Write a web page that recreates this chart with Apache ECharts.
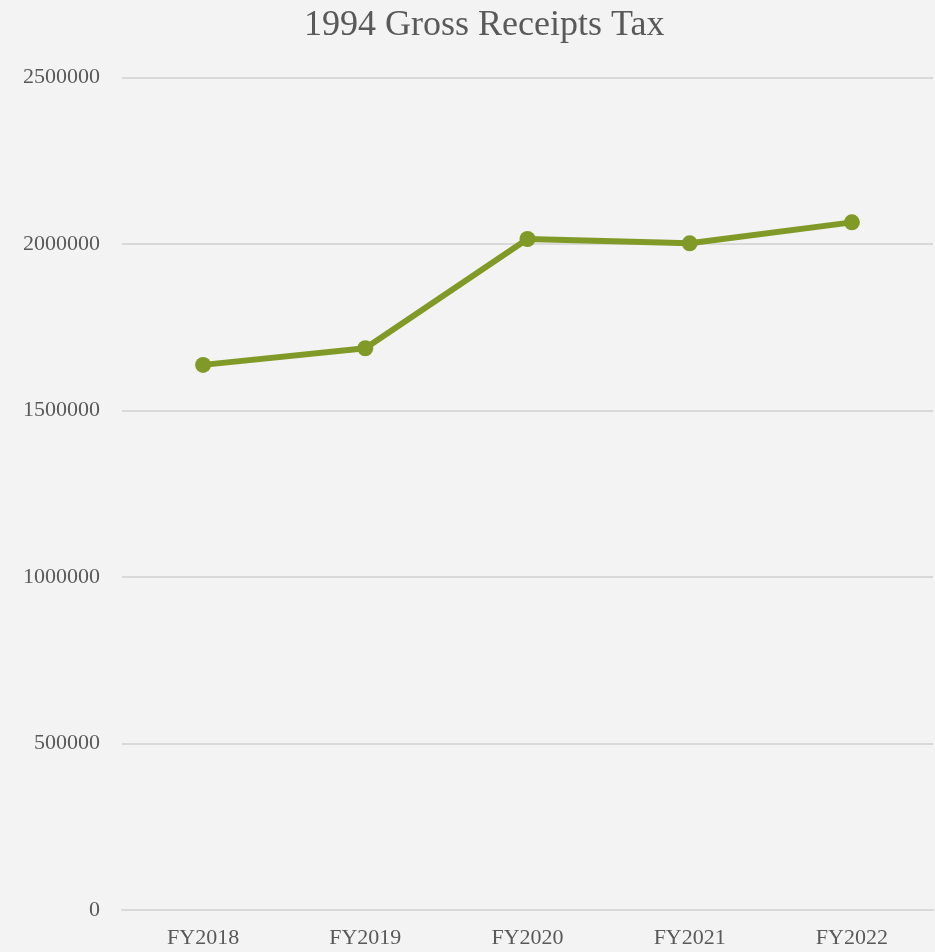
<!DOCTYPE html>
<html>
<head>
<meta charset="utf-8">
<style>
  html, body { margin: 0; padding: 0; background: #f3f3f3; }
  #chart { width: 935px; height: 952px; }
</style>
<script src="https://cdn.jsdelivr.net/npm/echarts@6/dist/echarts.min.js"></script>
</head>
<body>
<div id="chart"></div>
<script>
// Fiscal years and collected amounts (dollars)
const categories = ['FY2018', 'FY2019', 'FY2020', 'FY2021', 'FY2022'];
const receipts = [1637000, 1687000, 2015000, 2002000, 2065000];

const serif = '"Liberation Serif", "DejaVu Serif", serif';
const textColor = '#595959';

const chart = echarts.init(document.getElementById('chart'), null, { renderer: 'canvas' });
chart.setOption({
  backgroundColor: '#f3f3f3',
  animation: false,
  graphic: [{
    type: 'text',
    left: 304,
    top: 8,
    style: {
      text: '1994 Gross Receipts Tax',
      font: '36px ' + serif,
      fill: textColor
    }
  }],
  grid: { left: 122, right: 2, top: 77.5, bottom: 42, containLabel: false },
  xAxis: {
    type: 'category',
    data: categories,
    boundaryGap: true,
    axisLine: { show: true, lineStyle: { color: '#d9d9d9', width: 2 } },
    axisTick: { show: false },
    axisLabel: { margin: 17, fontFamily: serif, fontSize: 22, color: textColor }
  },
  yAxis: {
    type: 'value',
    min: 0,
    max: 2500000,
    interval: 500000,
    axisLine: { show: false },
    axisTick: { show: false },
    splitLine: { lineStyle: { color: '#d9d9d9', width: 2 } },
    axisLabel: {
      margin: 22,
      fontFamily: serif,
      fontSize: 22,
      color: textColor,
      padding: [4, 0, 0, 0],
      formatter: (v) => String(v)
    }
  },
  series: [{
    type: 'line',
    data: receipts,
    symbol: 'circle',
    symbolSize: 16,
    lineStyle: { color: '#819a27', width: 6 },
    itemStyle: { color: '#819a27' }
  }]
});
</script>
</body>
</html>
